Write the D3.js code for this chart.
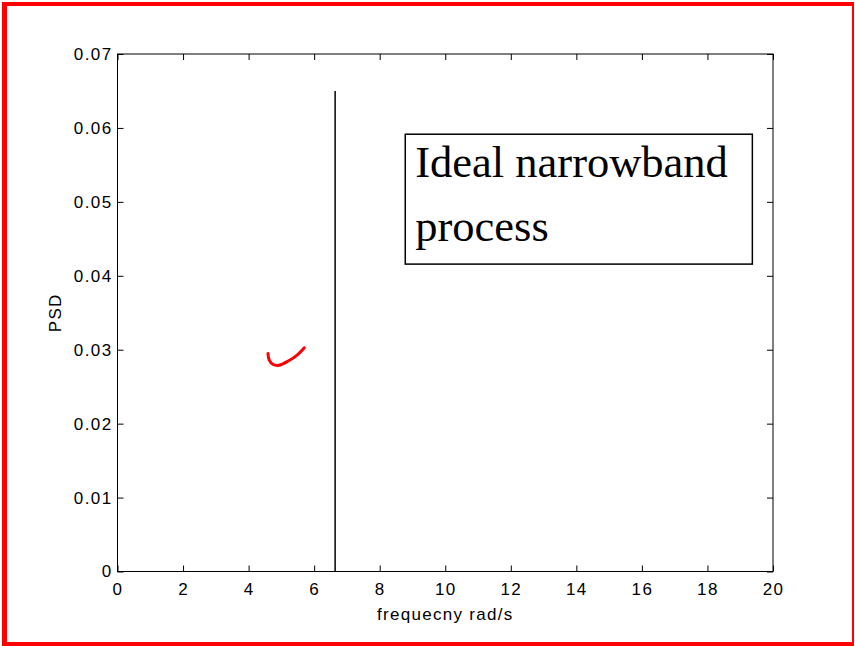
<!DOCTYPE html>
<html lang="en">
<head>
    <meta charset="UTF-8">
    <title>PSD narrowband</title>
    <script src="https://d3js.org/d3.v7.min.js"></script>
    <style>
        body { margin: 0; background: #fff; }
        .axis text { font-size: 17px; letter-spacing: 1.4px; font-family: "Liberation Sans", Arial, sans-serif; fill: #000; }
        .axis line { stroke: #000; }
        .label { font-size: 17px; letter-spacing: 1.3px; font-family: "Liberation Sans", Arial, sans-serif; fill: #000; }
        .note { font-size: 44.5px; font-family: "Liberation Serif", "Times New Roman", serif; fill: #000; }
    </style>
</head>
<body>
    <svg id="chart" width="855" height="646"></svg>
    <script>
        // red measured curve (frequency, PSD)
        const curveFreq = [4.59, 4.63, 4.75, 4.93, 5.21, 5.48, 5.70];
        const curvePsd  = [0.0295, 0.0286, 0.0280, 0.0279, 0.02847, 0.02928, 0.03027];
        // ideal narrowband spike
        const spikeFreq = 6.64;
        const spikePsd  = 0.065;

        const xTicks = [0, 2, 4, 6, 8, 10, 12, 14, 16, 18, 20];
        const yTicks = [0, 0.01, 0.02, 0.03, 0.04, 0.05, 0.06, 0.07];
        const noteLines = ["Ideal narrowband", "process"];
        const noteBox = {x0: 8.78, x1: 19.37, y0: 0.05915, y1: 0.04158};

        const svg = d3.select("#chart");

        // outer red frame
        svg.append("rect").attr("x", 2).attr("y", 2).attr("width", 5).attr("height", 644).attr("fill", "red");
        svg.append("rect").attr("x", 2).attr("y", 2).attr("width", 852).attr("height", 4).attr("fill", "red");
        svg.append("rect").attr("x", 2).attr("y", 642).attr("width", 852).attr("height", 4).attr("fill", "red");
        svg.append("rect").attr("x", 852).attr("y", 2).attr("width", 2).attr("height", 644).attr("fill", "red");

        const x = d3.scaleLinear().domain([0, 20]).range([117.5, 773]);
        const y = d3.scaleLinear().domain([0, 0.07]).range([571.5, 54]);

        const fmtY = d => d === 0 ? "0" : d3.format(".2f")(d);

        svg.append("g").attr("class", "axis").attr("transform", `translate(0,${y(0)})`)
            .call(d3.axisBottom(x).tickValues(xTicks).tickSize(-6).tickPadding(11).tickFormat(d3.format("d")))
            .call(g => g.select(".domain").remove());
        svg.append("g").attr("class", "axis").attr("transform", `translate(0,${y(0.07)})`)
            .call(d3.axisTop(x).tickValues(xTicks).tickSize(-6).tickFormat(""))
            .call(g => g.select(".domain").remove());
        svg.append("g").attr("class", "axis").attr("transform", `translate(${x(0)},0)`)
            .call(d3.axisLeft(y).tickValues(yTicks).tickSize(-6).tickPadding(5).tickFormat(fmtY))
            .call(g => g.select(".domain").remove());
        svg.append("g").attr("class", "axis").attr("transform", `translate(${x(20)},0)`)
            .call(d3.axisRight(y).tickValues(yTicks).tickSize(-6).tickFormat(""))
            .call(g => g.select(".domain").remove());

        // axes box
        svg.append("rect")
            .attr("x", x(0)).attr("y", y(0.07))
            .attr("width", x(20) - x(0)).attr("height", y(0) - y(0.07))
            .attr("fill", "none").attr("stroke", "#000").attr("stroke-width", 1);

        // spike
        svg.append("line")
            .attr("x1", x(spikeFreq)).attr("x2", x(spikeFreq))
            .attr("y1", y(0)).attr("y2", y(spikePsd))
            .attr("stroke", "#000").attr("stroke-width", 1.5);

        // red curve
        const pts = curveFreq.map((f, i) => [f, curvePsd[i]]);
        svg.append("path")
            .datum(pts)
            .attr("fill", "none")
            .attr("stroke", "red")
            .attr("stroke-width", 3)
            .attr("stroke-linecap", "round")
            .attr("d", d3.line().x(d => x(d[0])).y(d => y(d[1])).curve(d3.curveCatmullRom));

        // annotation box
        svg.append("rect")
            .attr("x", x(noteBox.x0)).attr("y", y(noteBox.y0))
            .attr("width", x(noteBox.x1) - x(noteBox.x0))
            .attr("height", y(noteBox.y1) - y(noteBox.y0))
            .attr("fill", "#fff").attr("stroke", "#000").attr("stroke-width", 1.5);
        svg.selectAll(".note").data(noteLines).enter().append("text")
            .attr("class", "note")
            .attr("x", x(noteBox.x0) + 10)
            .attr("y", (d, i) => y(noteBox.y0) + 43 + i * 64)
            .text(d => d);

        // axis labels
        svg.append("text").attr("class", "label")
            .attr("x", (x(0) + x(20)) / 2).attr("y", 620)
            .attr("text-anchor", "middle")
            .text("frequecny rad/s");
        svg.append("text").attr("class", "label")
            .attr("transform", `translate(61,${(y(0) + y(0.07)) / 2}) rotate(-90)`)
            .attr("text-anchor", "middle")
            .text("PSD");
    </script>
</body>
</html>
